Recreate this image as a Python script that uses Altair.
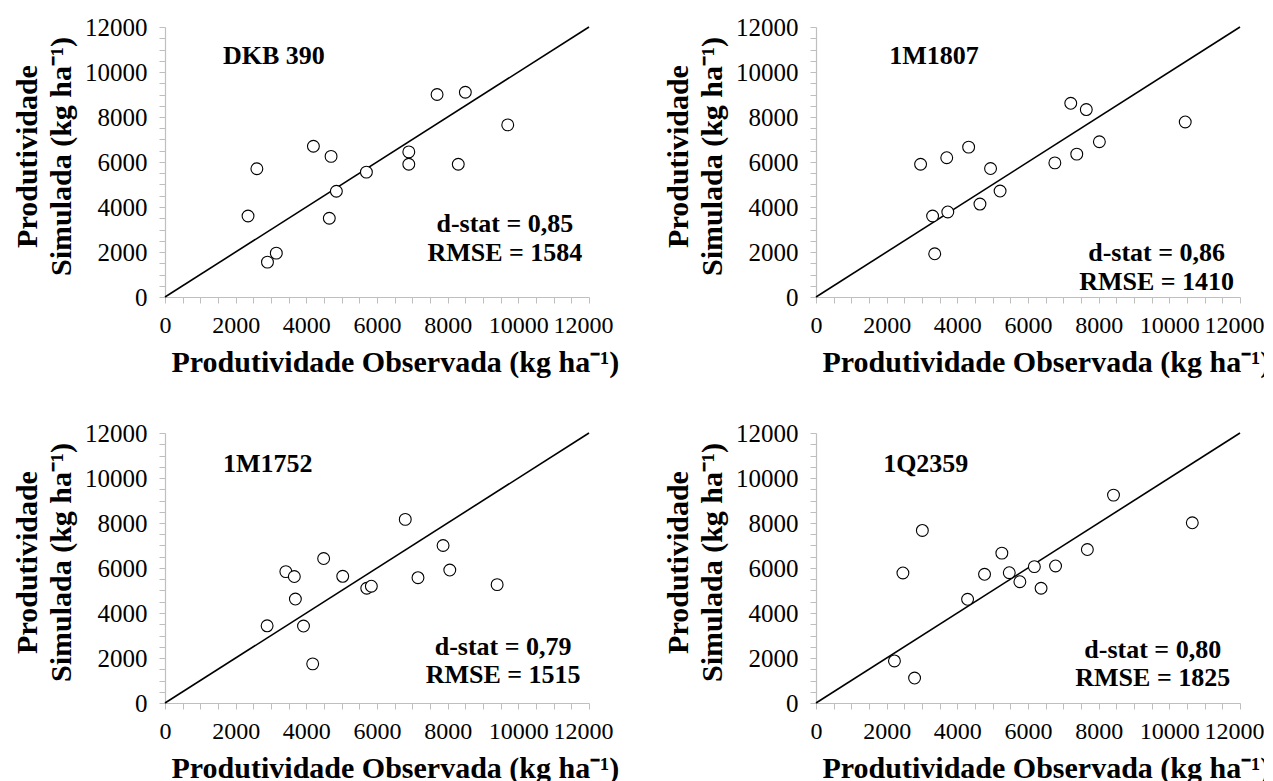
import altair as alt
import pandas as pd

# ---------------- data ----------------
varieties = ["DKB 390", "1M1807", "1M1752", "1Q2359"]

obs_dkb390 = [7700, 8500, 9700, 4200, 4700, 2600, 5700, 6900, 6900, 8300, 4850, 2350, 4650, 3150, 2900]
sim_dkb390 = [9000, 9100, 7650, 6700, 6250, 5700, 5550, 6450, 5900, 5900, 4700, 3600, 3500, 1950, 1550]

obs_1m1807 = [7210, 7650, 10450, 8020, 7380, 6760, 2960, 3700, 4320, 4940, 5210, 4640, 3730, 3300, 3360]
sim_1m1807 = [8610, 8330, 7780, 6900, 6350, 5960, 5900, 6190, 6660, 5710, 4710, 4130, 3780, 3600, 1920]

obs_1m1752 = [6800, 7870, 8060, 9400, 7160, 4490, 3420, 3660, 5030, 5710, 5840, 3690, 2890, 3920, 4180]
sim_1m1752 = [8160, 7000, 5910, 5260, 5570, 6420, 5840, 5620, 5630, 5100, 5190, 4620, 3430, 3420, 1740]

obs_1q2359 = [8420, 10650, 3010, 7680, 5260, 2460, 4770, 5470, 6180, 6780, 5770, 6370, 4290, 2220, 2790]
sim_1q2359 = [9240, 8010, 7670, 6820, 6660, 5780, 5720, 5790, 6060, 6090, 5390, 5100, 4610, 1870, 1110]

d_stat = ["0,85", "0,86", "0,79", "0,80"]
rmse = ["1584", "1410", "1515", "1825"]

obs_all = [obs_dkb390, obs_1m1807, obs_1m1752, obs_1q2359]
sim_all = [sim_dkb390, sim_1m1807, sim_1m1752, sim_1q2359]

axis_range = [0, 12000]

# annotation anchors (data coordinates) per panel
name_pos = [(1640, 10730), (2070, 10730), (1640, 10620), (1900, 10620)]
stat_pos = [(9620, 3240, 1960), (9640, 1960, 670), (9570, 2500, 1250), (9530, 2370, 1120)]

FONT = "Liberation Serif"
W, H = 424, 270

x_title = "Produtividade Observada (kg ha⁻¹)"
y_title = ["Produtividade", "Simulada (kg ha⁻¹)"]

tick_values = list(range(0, 12001, 500))
label_expr = "datum.value % 2000 === 0 ? datum.label : ''"

xscale = alt.Scale(domain=axis_range, nice=False, zero=True)
yscale = alt.Scale(domain=axis_range, nice=False, zero=True)

xaxis = alt.Axis(values=tick_values, format="d", labelExpr=label_expr, labelOverlap=False,
                 labelFlush=False, title=x_title, grid=False,
                 labelOffset={"condition": {"test": "datum.value === 12000", "value": -6}, "value": 0})
yaxis = alt.Axis(values=tick_values, format="d", labelExpr=label_expr, labelOverlap=False,
                 labelFlush=False, title=y_title, grid=False)


def X(field):
    return alt.X(f"{field}:Q", scale=xscale, axis=xaxis)


def Y(field):
    return alt.Y(f"{field}:Q", scale=yscale, axis=yaxis)


def panel(i):
    pts = pd.DataFrame({"obs": obs_all[i], "sim": sim_all[i]})
    line_df = pd.DataFrame({"v": axis_range})
    line = alt.Chart(line_df).mark_line(color="black", strokeWidth=1.6).encode(x=X("v"), y=Y("v"))
    points = alt.Chart(pts).mark_point(
        shape="circle", filled=True, fill="white", stroke="black", strokeWidth=1.1,
        size=140, opacity=1
    ).encode(x=X("obs"), y=Y("sim"))
    name_df = pd.DataFrame({"x": [name_pos[i][0]], "y": [name_pos[i][1]], "t": [varieties[i]]})
    name = alt.Chart(name_df).mark_text(
        font=FONT, fontSize=26, fontWeight="bold", align="left", baseline="middle", color="black"
    ).encode(x=X("x"), y=Y("y"), text="t:N")
    sx, sy1, sy2 = stat_pos[i]
    stat_df = pd.DataFrame({
        "x": [sx, sx], "y": [sy1, sy2],
        "t": [f"d-stat = {d_stat[i]}", f"RMSE = {rmse[i]}"],
    })
    stats = alt.Chart(stat_df).mark_text(
        font=FONT, fontSize=26, fontWeight="bold", align="center", baseline="middle", color="black"
    ).encode(x=X("x"), y=Y("y"), text="t:N")
    return alt.layer(line, points, name, stats).properties(width=W, height=H)


chart = alt.concat(
    panel(0), panel(1), panel(2), panel(3),
    columns=2, spacing={"row": 136, "column": 227}, bounds="flush"
).configure_view(stroke=None).configure_axis(
    domainColor="#bfbfbf", tickColor="#bfbfbf", tickSize=6, domainWidth=1.2, tickWidth=1,
    labelFont=FONT, labelFontSize=25, labelColor="black",
    titleFont=FONT, titleFontSize=30, titleFontWeight="bold", titleColor="black",
).configure_axisBottom(
    labelFontSize=24, labelPadding=10, titlePadding=10, titleAlign="left", titleAnchor="start", titleX=6
).configure_axisLeft(
    labelPadding=12, titlePadding=8, titleLineHeight=34, titleY=129
).properties(padding={"left": 4, "top": 7, "right": -6, "bottom": 0}, background="white")

chart.save("out.html", embed_options={"renderer": "svg", "actions": False})
